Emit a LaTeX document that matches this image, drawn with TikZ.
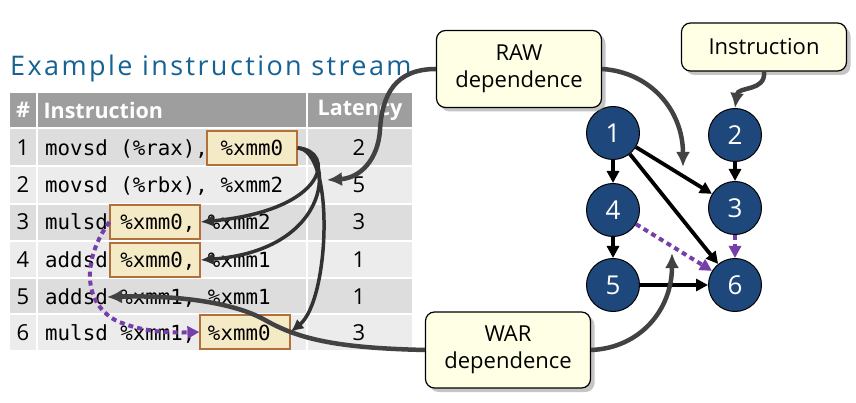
\documentclass[tikz,border=0pt]{standalone}
\usepackage{fontspec}
\setmainfont{Open Sans}
\setmonofont{DejaVu Sans Mono}
\usetikzlibrary{arrows.meta,shadows}
\definecolor{titleblue}{RGB}{22,98,148}
\definecolor{headgray}{RGB}{158,158,158}
\definecolor{rowdark}{RGB}{221,221,221}
\definecolor{rowlight}{RGB}{236,236,236}
\definecolor{hlfill}{RGB}{244,234,198}
\definecolor{hlline}{RGB}{176,112,60}
\definecolor{nodeblue}{RGB}{30,72,124}
\definecolor{notefill}{RGB}{255,255,230}
\definecolor{notegray}{RGB}{66,66,66}
\definecolor{linegray}{RGB}{50,50,50}
\definecolor{warpurple}{RGB}{118,62,168}
\newcommand\codefont{\ttfamily\fontsize{20.8}{24}\selectfont}
\tikzset{
  gnode/.style={
    circle,
    draw=black,
    line width=1pt,
    fill=nodeblue,
    minimum size=53pt,
    inner sep=0pt,
    text=white,
    font=\fontsize{26}{26}\selectfont
  },
  hlbox/.style={
    draw=hlline,
    line width=1.2pt,
    fill=hlfill,
    minimum width=90pt,
    minimum height=34pt,
    inner sep=0pt
  },
  note/.style={
    draw=black,
    line width=1.2pt,
    fill=notefill,
    rounded corners=9pt,
    minimum width=165pt,
    align=center,
    font=\fontsize{22}{27}\selectfont,
    drop shadow={shadow xshift=4pt, shadow yshift=-4pt, opacity=0.45}
  },
  head/.style={
    text=white,
    font=\bfseries\fontsize{21.5}{24}\selectfont
  },
  num/.style={
    anchor=base,
    inner sep=0pt,
    font=\fontsize{22}{24}\selectfont
  },
  code/.style={
    anchor=base west,
    inner sep=0pt,
    font=\codefont
  },
  dep/.style={
    -{Triangle[length=12pt,width=12pt]},
    line width=3.8pt
  },
  wardots/.style={
    draw=warpurple,
    -{Triangle[length=12pt,width=12pt]},
    line width=4pt,
    dash pattern=on 5pt off 4pt
  },
  rawline/.style={
    draw=linegray,
    -{Latex[length=13pt,width=12pt]},
    line width=3.5pt
  },
  callarrow/.style={
    draw=notegray,
    -{Latex[length=15pt,width=14pt]},
    line width=4.5pt
  }
}
\begin{document}
\begin{tikzpicture}[x=1pt,y=-1pt]
\useasboundingbox[fill=white] (0,0) rectangle (856,403);
% table
\node[anchor=base west, text=titleblue, inner sep=0pt, font=\fontsize{27}{28}\selectfont\addfontfeature{LetterSpace=9}] (title) at (10,76) {Example instruction stream};
\fill[headgray] (10,93) rectangle (412,127);
\foreach \top/\bot/\col in {129/165/rowdark,167/203/rowlight,205/240/rowdark,242/277/rowlight,279/313/rowdark,315/350/rowlight}
  \fill[\col] (10,\top) rectangle (412,\bot);
\draw[white, line width=2pt] (37,93) -- (37,350) (307,93) -- (307,350);
\node[head] (hnum) at (23,110) {\#};
\node[head, anchor=west] (hins) at (40,110) {Instruction};
\node[head] (hlat) at (360,110) {Latency};
\node[hlbox] (hl1) at (252,148) {};
\node[hlbox] (hl3) at (155,222) {};
\node[hlbox] (hl4) at (155,260) {};
\node[hlbox] (hl6) at (245,332) {};
\foreach \n/\y/\txt/\lat in {1/156/{movsd (\%rax), \%xmm0}/2,2/193/{movsd (\%rbx), \%xmm2}/5,3/230/{mulsd \%xmm0, \%xmm2}/3,4/267/{addsd \%xmm0, \%xmm1}/1,5/304/{addsd \%xmm1, \%xmm1}/1,6/340/{mulsd \%xmm1, \%xmm0}/3}{
  \node[num] (num\n) at (23,\y) {\n};
  \node[code] (code\n) at (45,\y) {\txt};
  \node[num] (lat\n) at (359,\y) {\lat};
}
% dependence graph
\node[gnode] (n1) at (613,133) {1};
\node[gnode] (n2) at (735,135) {2};
\node[gnode] (n4) at (613,210) {4};
\node[gnode] (n3) at (735,208) {3};
\node[gnode] (n5) at (613,285) {5};
\node[gnode] (n6) at (735,285) {6};
\draw[dep] (n1) -- (n4);
\draw[dep] (n1) -- (n3);
\draw[dep] (n1) -- (n6);
\draw[dep] (n2) -- (n3);
\draw[dep] (n4) -- (n5);
\draw[dep] (n5) -- (n6);
\draw[wardots] (n4) -- (n6);
\draw[wardots] (n3) -- (n6);
% dependences in the table
\draw[rawline] (hl1.east) .. controls (335,150) and (330,210) .. (hl3.east);
\draw[rawline] (hl1.east) .. controls (335,150) and (335,250) .. (hl4.east);
\draw[rawline] (hl1.east) .. controls (335,150) and (330,300) .. (hl6.east);
\draw[wardots] (hl3.west) .. controls (85,255) and (80,300) .. (115,320) .. controls (140,332) and (170,333) .. (hl6.west);
% callouts
\node[note, minimum height=77pt] (raw) at (519,69) {RAW\\dependence};
\node[note, minimum height=48pt] (instr) at (764,47) {Instruction};
\node[note, minimum height=76pt] (war) at (508,350) {WAR\\dependence};
\coordinate (rawtip) at (327,180);
\coordinate (rawdown) at (683,167);
\coordinate (warup) at (672,253);
\coordinate (wartip) at (107,297);
\draw[callarrow] (raw.west) .. controls (395,69) and (382,95) .. (380,130) .. controls (378,160) and (360,178) .. (rawtip);
\draw[callarrow] (raw.east) .. controls (650,72) and (683,110) .. (rawdown);
\draw[callarrow] (instr.south) .. controls (766,92) and (738,86) .. (n2.north);
\draw[callarrow] (war.east) .. controls (640,348) and (672,310) .. (warup);
\draw[callarrow] (war.west) .. controls (340,348) and (300,340) .. (265,320) .. controls (235,303) and (180,295) .. (wartip);
\end{tikzpicture}
\end{document}
